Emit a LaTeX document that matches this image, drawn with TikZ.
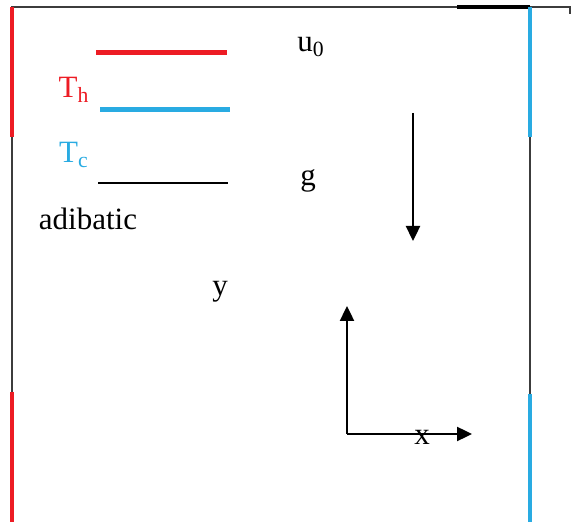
\documentclass[tikz,border=0pt]{standalone}
\usepackage{fontspec}
\setmainfont{Liberation Serif}
\usepackage{tikz}
\usetikzlibrary{arrows.meta, positioning}
\definecolor{hotred}{RGB}{237, 28, 36}
\definecolor{coldblue}{RGB}{41, 171, 226}
\definecolor{wallgray}{RGB}{60, 60, 60}

\begin{document}
\begin{tikzpicture}[x=0.5pt, y=-0.5pt, >={Triangle[length=7.5pt, width=7pt]},
  lbl/.style={font=\fontsize{15.5}{18}\selectfont, inner sep=0pt}]

  \useasboundingbox (0,0) rectangle (572,522);

  % --- enclosure ---
  \draw[wallgray, line width=0.7pt] (12,522) -- (12,7) -- (570,7) -- (570,14);
  \draw[wallgray, line width=0.7pt] (530,7) -- (530,522);
  \draw[black, line width=1.6pt] (457,7) -- (530,7);

  % --- heated / cooled wall parts ---
  \draw[hotred, line width=2pt] (12,7) -- (12,137);
  \draw[hotred, line width=2pt] (12,392) -- (12,522);
  \draw[coldblue, line width=2pt] (530,7) -- (530,137);
  \draw[coldblue, line width=2pt] (530,394) -- (530,522);

  % --- legend ---
  \draw[hotred, line width=2.5pt] (96,53) -- (227,53);
  \node[lbl, text=hotred] (hot) at (74,90) {T\textsubscript{h}};
  \draw[coldblue, line width=2.5pt] (100,110) -- (230,110);
  \node[lbl, text=coldblue] (cold) at (74,155) {T\textsubscript{c}};
  \draw[black, line width=0.7pt] (98,183) -- (228,183);
  \node[lbl] (adiab) at (88,219) {adibatic};

  % --- lid velocity and gravity ---
  \node[lbl] (lid) at (311,47) {u\textsubscript{0}};
  \node[lbl] (grav) at (308,181) {g};
  \coordinate (gtop) at (413,113);
  \coordinate (gbot) at (413,241);
  \draw[->, line width=1.2pt] (gtop) -- (gbot);

  % --- axes ---
  \node[lbl] (ylab) at (220,292) {y};
  \coordinate (orig) at (347,434);
  \coordinate (yend) at (347,306);
  \coordinate (xend) at (472,434);
  \draw[->, line width=1.2pt] (orig) -- (yend);
  \draw[->, line width=1.2pt] (orig) -- (xend);
  \node[lbl] (xlab) at (422,437) {x};

\end{tikzpicture}
\end{document}
